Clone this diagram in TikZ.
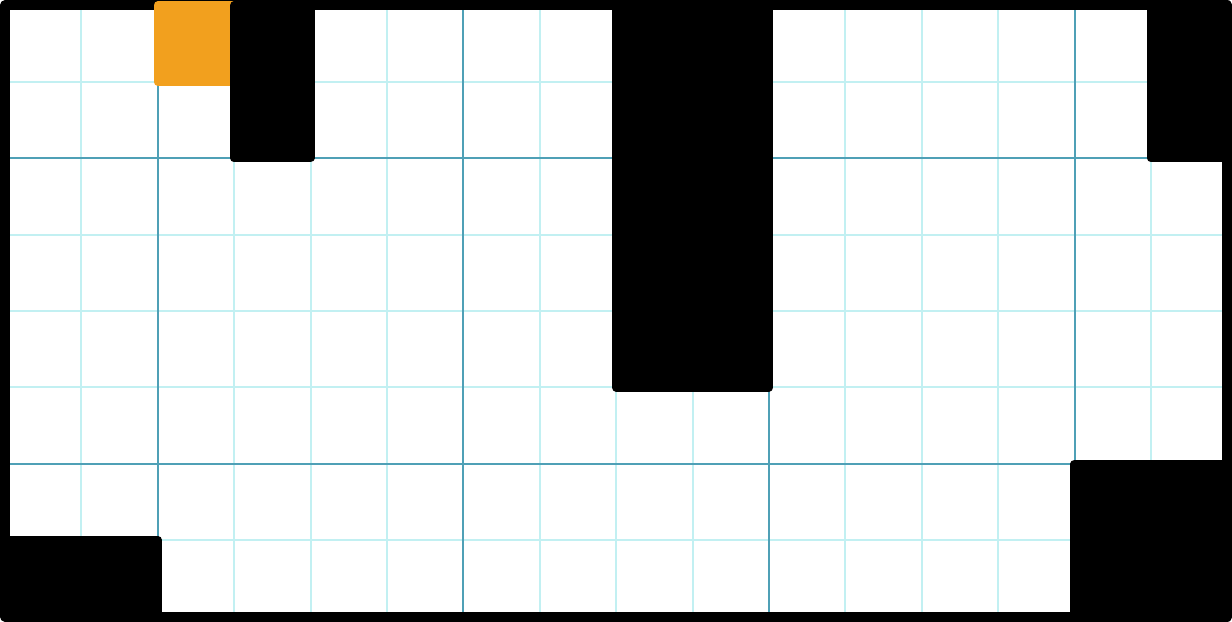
\documentclass[tikz,border=0pt]{standalone}
\usepackage{tikz}
\usetikzlibrary{calc}
\definecolor{gridlight}{HTML}{C2F0F2}
\definecolor{gridmajor}{HTML}{4FA0B6}
\definecolor{goalorange}{HTML}{F2A01E}
\tikzset{
  minorline/.style={draw=gridlight, line width=0.75pt},
  majorline/.style={draw=gridmajor, line width=0.75pt},
  frame/.style={draw=black, line width=3.7pt, line join=round},
  wallblock/.style={fill=black, draw=black, line width=0.11cm, line join=round},
  goalblock/.style={fill=goalorange, draw=goalorange, line width=0.11cm, line join=round}
}

\begin{document}
\begin{tikzpicture}[x=1cm, y=1cm]

\useasboundingbox (-0.065,-0.07) rectangle (16.06,8.07);

% Grid
\foreach \i in {1,...,15} {
  \draw[minorline] (\i,0) -- (\i,8);
}
\foreach \j in {1,...,7} {
  \draw[minorline] (0,\j) -- (16,\j);
}
\foreach \i in {2,6,10,14} {
  \draw[majorline] (\i,0) -- (\i,8);
}
\foreach \j in {2,6} {
  \draw[majorline] (0,\j) -- (16,\j);
}

% Outer frame
\draw[frame] (0,0) rectangle (16,8);

% Goal cell
\draw[goalblock] (2,7) rectangle (3,8);

% Walls
\draw[wallblock] (3,6) rectangle (4,8);
\draw[wallblock] (8,3) rectangle (10,8);
\draw[wallblock] (15,6) rectangle (16,8);
\draw[wallblock] (14,0) rectangle (16,2);
\draw[wallblock] (0,0) rectangle (2,1);

\end{tikzpicture}
\end{document}
